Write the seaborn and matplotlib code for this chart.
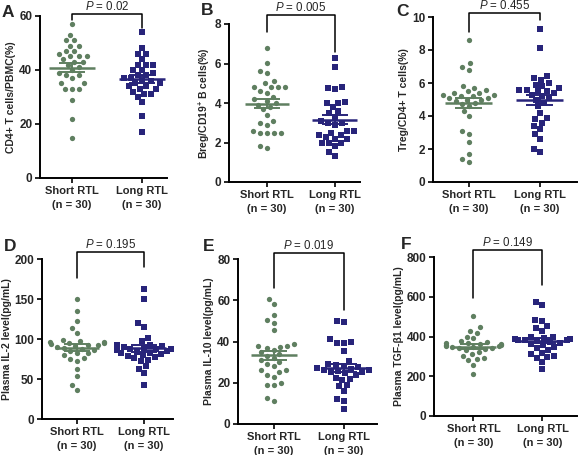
import numpy as np
import pandas as pd
import matplotlib
matplotlib.use("Agg")
import matplotlib.pyplot as plt
import seaborn as sns

# ---------------- data ----------------
groups = ["Short RTL", "Long RTL"]
group_ticklabels = ["Short RTL\n(n = 30)", "Long RTL\n(n = 30)"]
panel_letters = ["A", "B", "C", "D", "E", "F"]
ylabels = ["CD4+ T cells/PBMC(%)", "Breg/CD19$^{+}$ B cells(%)", "Treg/CD4+ T cells(%)",
           "Plasma IL-2 level(pg/mL)", "Plasma IL-10 level(pg/mL)", "Plasma TGF-β1 level(pg/mL)"]
p_values = ["0.02", "0.005", "0.455", "0.195", "0.019", "0.149"]
yticks = [[0, 20, 40, 60], [0, 2, 4, 6, 8], [0, 2, 4, 6, 8, 10],
          [0, 50, 100, 150, 200], [0, 20, 40, 60, 80], [0, 200, 400, 600, 800]]

a_short = [57, 53, 51, 51, 49, 49, 47, 47, 46, 45, 45, 45, 44, 43, 43, 42, 41, 40, 39, 38,
           38, 37, 35, 35, 33, 33, 33, 29, 22, 15]
a_long = [54, 48, 46, 46, 44, 42, 42, 42, 40, 40, 39, 38, 38, 37, 37, 36, 36, 35, 35, 34,
          34, 33, 33, 32, 31, 31, 30, 28, 23, 17]
b_short = [6.8, 6.05, 5.6, 5.5, 5.1, 5.0, 4.8, 4.8, 4.8, 4.8, 4.6, 4.5, 4.3, 4.2, 4.1, 4.0,
           3.9, 3.8, 3.7, 3.4, 3.1, 3.0, 2.9, 2.6, 2.5, 2.5, 2.5, 2.5, 1.8, 1.7]
b_long = [6.3, 5.8, 4.8, 4.75, 4.7, 4.05, 4.0, 4.0, 3.8, 3.6, 3.5, 3.3, 3.1, 3.0, 3.0, 2.9,
          2.6, 2.6, 2.5, 2.4, 2.4, 2.3, 2.2, 2.2, 2.0, 2.0, 2.0, 1.8, 1.5, 1.3]
c_short = [8.6, 7.2, 7.0, 6.8, 5.8, 5.7, 5.6, 5.5, 5.4, 5.4, 5.3, 5.3, 5.2, 5.2, 5.1, 5.1,
           5.0, 5.0, 4.9, 4.8, 4.7, 4.6, 4.3, 4.0, 3.1, 2.9, 2.4, 1.7, 1.4, 1.2]
c_long = [9.3, 8.1, 6.4, 6.3, 6.2, 6.0, 5.9, 5.8, 5.7, 5.6, 5.6, 5.5, 5.5, 5.4, 5.3, 5.2,
          5.1, 5.0, 4.8, 4.6, 4.2, 3.9, 3.8, 3.6, 3.4, 3.2, 2.9, 2.6, 2.0, 1.8]
d_short = [150, 135, 123, 114, 108, 99, 97, 96, 96, 95, 95, 94, 93, 92, 91, 90, 89, 88, 86,
           85, 83, 82, 80, 76, 75, 73, 63, 54, 42, 36]
d_long = [162, 150, 120, 115, 101, 97, 93, 92, 91, 90, 89, 88, 88, 87, 86, 85, 84, 83, 82,
          81, 80, 79, 77, 76, 74, 72, 66, 63, 57, 42]
e_short = [60.5, 58, 53, 50.5, 49, 45.5, 39, 38, 38, 37.5, 37, 36, 35, 34, 33, 32, 31, 30,
           29, 28, 26, 26, 25, 24, 23, 20, 19, 19, 12.5, 11]
e_long = [50, 49.5, 41, 40, 39.5, 39.5, 35.5, 30.5, 29, 28.5, 28, 27.5, 27, 26.5, 26, 26,
          25.5, 25, 25, 24.5, 24, 22.5, 22, 21.5, 19, 18.5, 16, 12, 11, 7.5]
f_short = [505, 450, 430, 420, 400, 390, 375, 370, 365, 365, 360, 360, 355, 355, 350, 350,
           345, 345, 340, 340, 335, 330, 320, 310, 300, 290, 285, 280, 255, 210]
f_long = [575, 560, 485, 480, 455, 445, 430, 400, 395, 390, 385, 385, 380, 380, 380, 375,
          370, 365, 360, 355, 345, 340, 330, 315, 310, 300, 295, 290, 270, 235]

panel_data = [(a_short, a_long), (b_short, b_long), (c_short, c_long),
              (d_short, d_long), (e_short, e_long), (f_short, f_long)]

# ---------------- style ----------------
sns.set_style("ticks")
plt.rcParams["font.family"] = ["Liberation Sans", "DejaVu Sans"]
plt.rcParams["mathtext.fontset"] = "custom"
plt.rcParams["mathtext.rm"] = "Liberation Sans:bold"
plt.rcParams["mathtext.bf"] = "Liberation Sans:bold"
plt.rcParams["mathtext.it"] = "Liberation Sans:italic"

colors = ["#5f7f60", "#28247a"]
markers = ["o", "s"]

W, H = 578, 455
# axes rectangles in pixels: left, top, right, bottom
rects = [(40, 16, 167, 178), (229, 24, 360, 182), (433, 17, 577, 182),
         (42, 259, 173, 419), (238, 259, 377, 424), (434, 257, 577, 416)]
xlims = [(-0.46, 1.36), (-0.56, 1.37), (-0.5, 1.52),
         (-0.52, 1.43), (-0.51, 1.47), (-0.57, 1.5)]
# bracket: top, left leg end, right leg end (data units)
brackets = [(60.6, 58.5, 55.5), (8.45, 7.6, 6.6), (10.25, 9.1, 9.8),
            (209, 176, 190), (82.9, 66, 55.4), (837, 593, 660)]
letter_pos = [(2, 5), (201, 3), (396, 4), (4, 239), (203, 239), (401, 237)]

fig = plt.figure(figsize=(W / 100, H / 100), dpi=100)

for i, (short, long_) in enumerate(panel_data):
    l, t, r, b = rects[i]
    ax = fig.add_axes([l / W, 1 - b / H, (r - l) / W, (b - t) / H])
    df = pd.DataFrame({"group": [groups[0]] * len(short) + [groups[1]] * len(long_),
                       "value": list(short) + list(long_)})
    for g, grp in enumerate(groups):
        sub = df[df["group"] == grp]
        sns.swarmplot(data=sub, x="group", y="value", order=groups, color=colors[g],
                      marker=markers[g], size=3.8, linewidth=1.1,
                      edgecolor=(1, 1, 1, 0), ax=ax, zorder=2, warn_thresh=1)
        vals = np.asarray(sub["value"], dtype=float)
        m = vals.mean()
        se = vals.std(ddof=1) / np.sqrt(len(vals))
        ax.hlines(m, g - 0.33, g + 0.33, color=colors[g], lw=1.8, zorder=4)
        ax.vlines(g, m - se, m + se, color=colors[g], lw=1.4, zorder=4)
        ax.hlines([m - se, m + se], g - 0.19, g + 0.19, color=colors[g], lw=1.4, zorder=4)

    top, lft, rgt = brackets[i]
    ax.plot([0, 0, 1, 1], [lft, top, top, rgt], color="black", lw=1.1, clip_on=False,
            zorder=5)
    ax.annotate(r"$\it{P}$ = " + p_values[i], xy=(0.5, top), xytext=(0, 0.8),
                textcoords="offset points", ha="center", va="bottom", fontsize=8.3,
                annotation_clip=False)

    ax.set_xlim(*xlims[i])
    ax.set_ylim(yticks[i][0], yticks[i][-1])
    ax.set_yticks(yticks[i])
    ax.set_xticks([0, 1])
    ax.set_xticklabels(group_ticklabels, fontsize=8, fontweight="bold", linespacing=1.5)
    for lab in ax.get_yticklabels():
        lab.set_fontweight("bold")
        lab.set_fontsize(8.5)
    ax.set_xlabel("")
    ax.set_ylabel(ylabels[i], fontsize=7.5, fontweight="bold", labelpad=2)
    for s in ["top", "right"]:
        ax.spines[s].set_visible(False)
    for s in ["left", "bottom"]:
        ax.spines[s].set_linewidth(1.4)
        ax.spines[s].set_color("black")
    ax.tick_params(axis="both", width=1.2, length=3.5, color="black", pad=2)
    ax.set_facecolor("none")

    lx, ly = letter_pos[i]
    fig.text(lx / W, 1 - ly / H, panel_letters[i], ha="left", va="top", fontsize=12.5,
             fontweight="bold")

fig.savefig("out.png", dpi=100)
